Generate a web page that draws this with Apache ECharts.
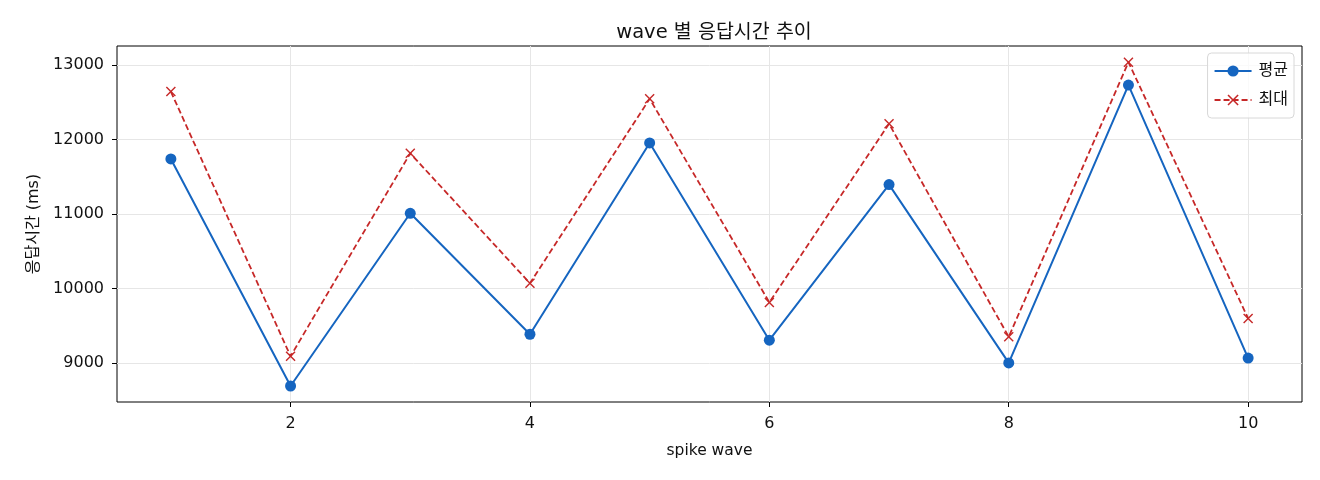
<!DOCTYPE html>
<html>
<head>
<meta charset="utf-8">
<script src="https://cdn.jsdelivr.net/npm/echarts@6/dist/echarts.min.js"></script>
<style>
html, body { margin: 0; padding: 0; background: #fff; }
#chart { width: 1320px; height: 480px; }
</style>
</head>
<body>
<div id="chart"></div>
<script>
// wave 번호
var waves = [1, 2, 3, 4, 5, 6, 7, 8, 9, 10];
// 평균 응답시간 (ms)
var avgMs = [11740, 8690, 11010, 9385, 11955, 9305, 11395, 9000, 12732, 9065];
// 최대 응답시간 (ms)
var maxMs = [12645, 9090, 11815, 10070, 12548, 9813, 12212, 9350, 13040, 9598];
var xTicks = [2, 4, 6, 8, 10];
var yTicks = [9000, 10000, 11000, 12000, 13000];

var FONT = '"DejaVu Sans", "Noto Sans CJK KR", sans-serif';
var xMark = 'path://M0,1 L1,0 L5,4 L9,0 L10,1 L6,5 L10,9 L9,10 L5,6 L1,10 L0,9 L4,5 Z';

function pairs(xs, ys)
{
    var out = [];
    for (var i = 0; i < xs.length; i++)
    {
        out.push([xs[i], ys[i]]);
    }
    return out;
}

var myChart = echarts.init(document.getElementById('chart'), null, {renderer: 'canvas'});

var option = {
    animation: false,
    backgroundColor: '#fff',
    textStyle: {fontFamily: FONT},
    title: {
        text: 'wave 별 응답시간 추이',
        left: 709,
        textAlign: 'center',
        top: 18,
        textStyle: {fontFamily: FONT, fontSize: 19.5, fontWeight: 'normal', color: '#111'}
    },
    legend: {
        right: 26,
        top: 53,
        orient: 'vertical',
        itemWidth: 37,
        itemHeight: 14,
        itemGap: 13,
        padding: [10, 6, 10, 6],
        borderColor: '#d8d8d8',
        borderWidth: 1,
        borderRadius: 4,
        backgroundColor: 'rgba(255,255,255,0.8)',
        textStyle: {fontFamily: FONT, fontSize: 16, color: '#111', padding: [0, 0, 0, 2]},
        data: ['평균', '최대']
    },
    grid: {
        left: 117,
        right: 18,
        top: 46,
        bottom: 78,
        show: true,
        borderColor: '#000',
        borderWidth: 1
    },
    xAxis: {
        type: 'value',
        min: 0.55,
        max: 10.45,
        name: 'spike wave',
        nameLocation: 'middle',
        nameGap: 41,
        nameTextStyle: {fontFamily: FONT, fontSize: 15.5, color: '#111'},
        axisLine: {show: false},
        axisTick: {show: true, length: 5, lineStyle: {color: '#000'}, customValues: xTicks},
        axisLabel: {fontFamily: FONT, fontSize: 16, color: '#111', margin: 14, customValues: xTicks},
        splitLine: {show: true, lineStyle: {color: '#e6e6e6', width: 1}}
    },
    yAxis: {
        type: 'value',
        min: 8475,
        max: 13257,
        name: '응답시간 (ms)',
        nameLocation: 'middle',
        nameGap: 71,
        nameRotate: 90,
        nameTextStyle: {fontFamily: FONT, fontSize: 16, color: '#111'},
        axisLine: {show: false},
        axisTick: {show: true, length: 5, lineStyle: {color: '#000'}, customValues: yTicks},
        axisLabel: {
            fontFamily: FONT, fontSize: 16, color: '#111', margin: 13, customValues: yTicks,
            padding: [4, 0, 0, 0],
            formatter: function (v) { return String(v); }
        },
        splitLine: {show: true, lineStyle: {color: '#e6e6e6', width: 1}}
    },
    series: [
        {
            name: '평균',
            type: 'line',
            data: pairs(waves, avgMs),
            symbol: 'circle',
            symbolSize: 11,
            itemStyle: {color: '#1565c0'},
            lineStyle: {color: '#1565c0', width: 2}
        },
        {
            name: '최대',
            type: 'line',
            data: pairs(waves, maxMs),
            symbol: xMark,
            symbolSize: 10,
            itemStyle: {color: '#c62828'},
            lineStyle: {color: '#c62828', width: 1.8, type: [6, 3]}
        }
    ]
};
myChart.setOption(option);
</script>
</body>
</html>
